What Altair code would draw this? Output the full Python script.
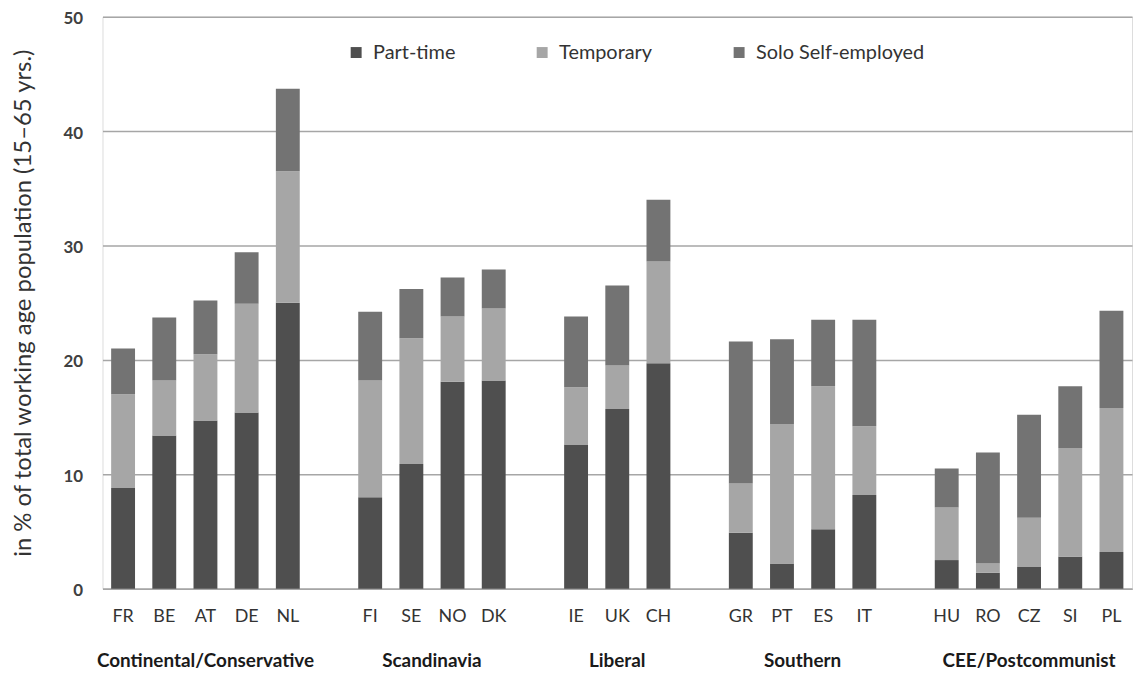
import altair as alt
import pandas as pd

countries = ["FR", "BE", "AT", "DE", "NL",
             "FI", "SE", "NO", "DK",
             "IE", "UK", "CH",
             "GR", "PT", "ES", "IT",
             "HU", "RO", "CZ", "SI", "PL"]
groups = (["Continental/Conservative"] * 5 + ["Scandinavia"] * 4 + ["Liberal"] * 3
          + ["Southern"] * 4 + ["CEE/Postcommunist"] * 5)
part_time = [8.8, 13.4, 14.7, 15.4, 25.0,
             8.0, 10.9, 18.1, 18.2,
             12.6, 15.7, 19.7,
             4.9, 2.2, 5.2, 8.2,
             2.5, 1.4, 1.9, 2.8, 3.2]
temporary = [8.2, 4.8, 5.8, 9.5, 11.5,
             10.2, 11.0, 5.7, 6.3,
             5.0, 3.8, 8.9,
             4.3, 12.2, 12.5, 6.0,
             4.6, 0.8, 4.3, 9.5, 12.6]
solo_self = [4.0, 5.5, 4.7, 4.5, 7.2,
             6.0, 4.3, 3.4, 3.4,
             6.2, 7.0, 5.4,
             12.4, 7.4, 5.8, 9.3,
             3.4, 9.7, 9.0, 5.4, 8.5]
series = ["Part-time", "Temporary", "Solo Self-employed"]
colors = ["#4f4f4f", "#a6a6a6", "#737373"]

# long table
rows = []
for i, c in enumerate(countries):
    for k, (s, vals) in enumerate(zip(series, [part_time, temporary, solo_self])):
        rows.append({"country": c, "group": groups[i], "series": s, "order": k, "value": vals[i]})
df = pd.DataFrame(rows)

# x domain with blank spacer slots between groups
group_names = list(dict.fromkeys(groups))
domain = []
for gi, g in enumerate(group_names):
    if gi > 0:
        domain.append(" " * gi)
    domain += [c for c, gg in zip(countries, groups) if gg == g]

W, H = 1035, 575
PAD_INNER = 0.42
xscale = alt.Scale(domain=domain, paddingInner=PAD_INNER, paddingOuter=PAD_INNER / 2)
STEP = W / len(domain)

# group label anchors
odd_rows, even_rows = [], []
for g in group_names:
    members = [c for c, gg in zip(countries, groups) if gg == g]
    n = len(members)
    if n % 2 == 1:
        odd_rows.append({"group": g, "anchor": members[n // 2]})
    else:
        even_rows.append({"group": g, "anchor": members[n // 2 - 1]})
odd_df = pd.DataFrame(odd_rows)
even_df = pd.DataFrame(even_rows)

FONT = "Lato"

bars = alt.Chart(df).mark_bar().encode(
    x=alt.X("country:N", scale=xscale, sort=domain,
            axis=alt.Axis(title=None, labelAngle=0, ticks=False, domain=True,
                          domainColor="#a6a6a6", domainWidth=1.5,
                          labelFont=FONT, labelFontSize=18, labelColor="#333333",
                          labelPadding=19)),
    y=alt.Y("value:Q", stack="zero",
            scale=alt.Scale(domain=[0, 50], nice=False),
            axis=alt.Axis(title="in % of total working age population (15–65 yrs.)",
                          values=[0, 10, 20, 30, 40, 50], ticks=False, domain=False,
                          grid=True, gridColor="#a6a6a6", gridWidth=1.5,
                          labelFont=FONT, labelFontSize=17, labelColor="#404040",
                          labelFontWeight="bold", labelPadding=20, labelOffset=2,
                          titleFont=FONT, titleFontSize=24, titleFontWeight="normal",
                          titleColor="#333333", titlePadding=28)),
    color=alt.Color("series:N", scale=alt.Scale(domain=series, range=colors),
                    legend=alt.Legend(title=None, orient="none", direction="horizontal",
                                      legendX=245, legendY=26, symbolType="square",
                                      symbolSize=121, symbolStrokeWidth=0,
                                      labelFont=FONT, labelFontSize=20, labelLimit=400,
                                      labelColor="#333333", columnPadding=77,
                                      labelOffset=7)),
    order=alt.Order("order:Q", sort="ascending"),
)

lab_odd = alt.Chart(odd_df).mark_text(
    font=FONT, fontSize=19, fontWeight="bold", color="#1a1a1a", baseline="middle"
).encode(
    x=alt.X("anchor:N", scale=xscale, sort=domain, bandPosition=0.5),
    y=alt.value(648),
    text="group:N",
)
lab_even = alt.Chart(even_df).mark_text(
    font=FONT, fontSize=19, fontWeight="bold", color="#1a1a1a", baseline="middle",
    dx=STEP * PAD_INNER / 2,
).encode(
    x=alt.X("anchor:N", scale=xscale, sort=domain, bandPosition=1),
    y=alt.value(648),
    text="group:N",
)

chart = alt.layer(bars, lab_odd, lab_even).properties(
    width=W, height=H,
    autosize=alt.AutoSizeParams(type="none"),
    padding={"left": 95, "top": 7, "right": 5, "bottom": 85},
).configure_view(stroke=None).configure(background="white")

chart.save("out.html", embed_options={"renderer": "svg", "actions": False})
